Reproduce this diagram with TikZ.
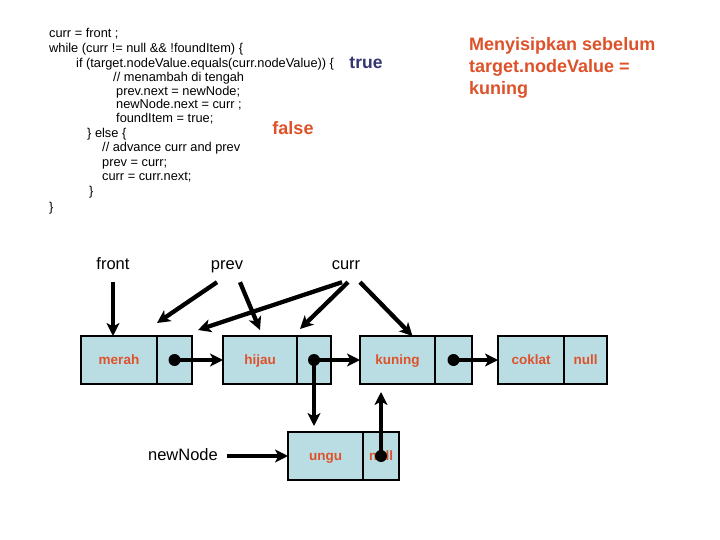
\documentclass[tikz,border=0pt]{standalone}
\usepackage{fontspec}
\setmainfont{Liberation Sans}
\usetikzlibrary{arrows.meta, positioning}
\definecolor{cellblue}{RGB}{186,221,227}
\definecolor{valred}{RGB}{222,82,42}
\definecolor{truenavy}{RGB}{52,52,112}
\tikzset{
    code/.style={anchor=base west, inner sep=0pt, font=\fontsize{12.8bp}{14.5bp}\selectfont},
    cell/.style={rectangle, draw=black, line width=1.3bp, fill=cellblue, minimum height=48bp, inner sep=0pt, outer sep=0pt, text height=10bp, text depth=1.5bp, text=valred, font=\bfseries\fontsize{13.5bp}{16bp}\selectfont},
    varname/.style={font=\fontsize{16.5bp}{19bp}\selectfont, text height=12bp, text depth=3bp, inner ysep=9.5bp},
    ptr/.style={-{Stealth[length=13bp, width=13bp, inset=3.5bp]}, line width=4.3bp}
}
\begin{document}
\begin{tikzpicture}[x=1bp, y=-1bp]
  \useasboundingbox[fill=white] (0,0) rectangle (720,540);
  % kode program
  \node[code] (c1) at (49,37.5) {curr = front ;};
  \node[code] (c2) at (49,52.5) {while (curr != null \&\& !foundItem) \{};
  \node[code] (c3) at (76,67.5) {if (target.nodeValue.equals(curr.nodeValue)) \{};
  \node[code] (c4) at (113,81.5) {// menambah di tengah};
  \node[code] (c5) at (116,95.5) {prev.next = newNode;};
  \node[code] (c6) at (116,109) {newNode.next = curr ;};
  \node[code] (c7) at (116,123) {foundItem = true;};
  \node[code] (c8) at (87,137.5) {\} else \{};
  \node[code] (c9) at (102,151.5) {// advance curr and prev};
  \node[code] (c10) at (102,166.5) {prev = curr;};
  \node[code] (c11) at (102,180.5) {curr = curr.next;};
  \node[code] (c12) at (89,195.5) {\}};
  \node[code] (c13) at (49,211.5) {\}};
  \node[text=truenavy, font=\bfseries\fontsize{17.5bp}{20bp}\selectfont] (true) at (366,63) {true};
  \node[text=valred, font=\bfseries\fontsize{18bp}{20bp}\selectfont] (false) at (293,128) {false};
  \node[anchor=west, inner sep=0pt, align=left, text=valred, font=\bfseries\fontsize{18bp}{22bp}\selectfont] (note) at (469,68) {Menyisipkan sebelum\\target.nodeValue =\\kuning};
  % linked list
  \node[cell, minimum width=76bp] (merah) at (119,360) {merah};
  \node[cell, minimum width=35bp, right=0pt of merah] (merahnext) {};
  \node[cell, minimum width=74bp, right=31bp of merahnext] (hijau) {hijau};
  \node[cell, minimum width=34bp, right=0pt of hijau] (hijaunext) {};
  \node[cell, minimum width=75bp, right=29bp of hijaunext] (kuning) {kuning};
  \node[cell, minimum width=37bp, right=0pt of kuning] (kuningnext) {};
  \node[cell, minimum width=66bp, right=26bp of kuningnext] (coklat) {coklat};
  \node[cell, minimum width=43bp, right=0pt of coklat] (coklatnext) {null};
  \node[cell, minimum width=75bp] (ungu) at (325.5,456) {ungu};
  \node[cell, minimum width=36bp, right=0pt of ungu] (ungunext) {null};
  % nama variabel
  \node[varname] (front) at (113,265) {front};
  \node[varname] (prev) at (227,265) {prev};
  \node[varname] (curr) at (346,265) {curr};
  \node[font=\fontsize{16.5bp}{19bp}\selectfont, text height=12bp, text depth=3bp] (newnode) at (183,456) {newNode};
  % pointer
  \foreach \p in {merahnext, hijaunext, kuningnext, ungunext}
    \fill (\p.center) circle (6bp);
  \draw[ptr] (merahnext.center) -- (hijau.west);
  \draw[ptr] (hijaunext.center) -- (kuning.west);
  \draw[ptr] (kuningnext.center) -- (coklat.west);
  \draw[ptr, shorten >=6bp] (hijaunext.center) -- (hijaunext.center |- ungu.north);
  \draw[ptr, shorten >=8bp] (ungunext.center) -- (ungunext.center |- kuning.south);
  \draw[ptr, shorten <=6bp] (newnode.east) -- (ungu.west);
  \draw[ptr] (front.south) -- (front.south |- merah.north);
  \draw[ptr] ([xshift=-10bp]prev.south) -- ([yshift=13bp]merahnext.north west);
  \draw[ptr] ([xshift=13bp]prev.south) -- ([yshift=6bp]hijau.north);
  \draw[ptr] ([xshift=-4bp]curr.south) -- ([xshift=6bp, yshift=6bp]merahnext.north east);
  \draw[ptr] ([xshift=2bp]curr.south) -- ([xshift=3bp, yshift=7bp]hijaunext.north west);
  \draw[ptr] ([xshift=14bp]curr.south) -- ([xshift=15bp]kuning.north);
\end{tikzpicture}
\end{document}
